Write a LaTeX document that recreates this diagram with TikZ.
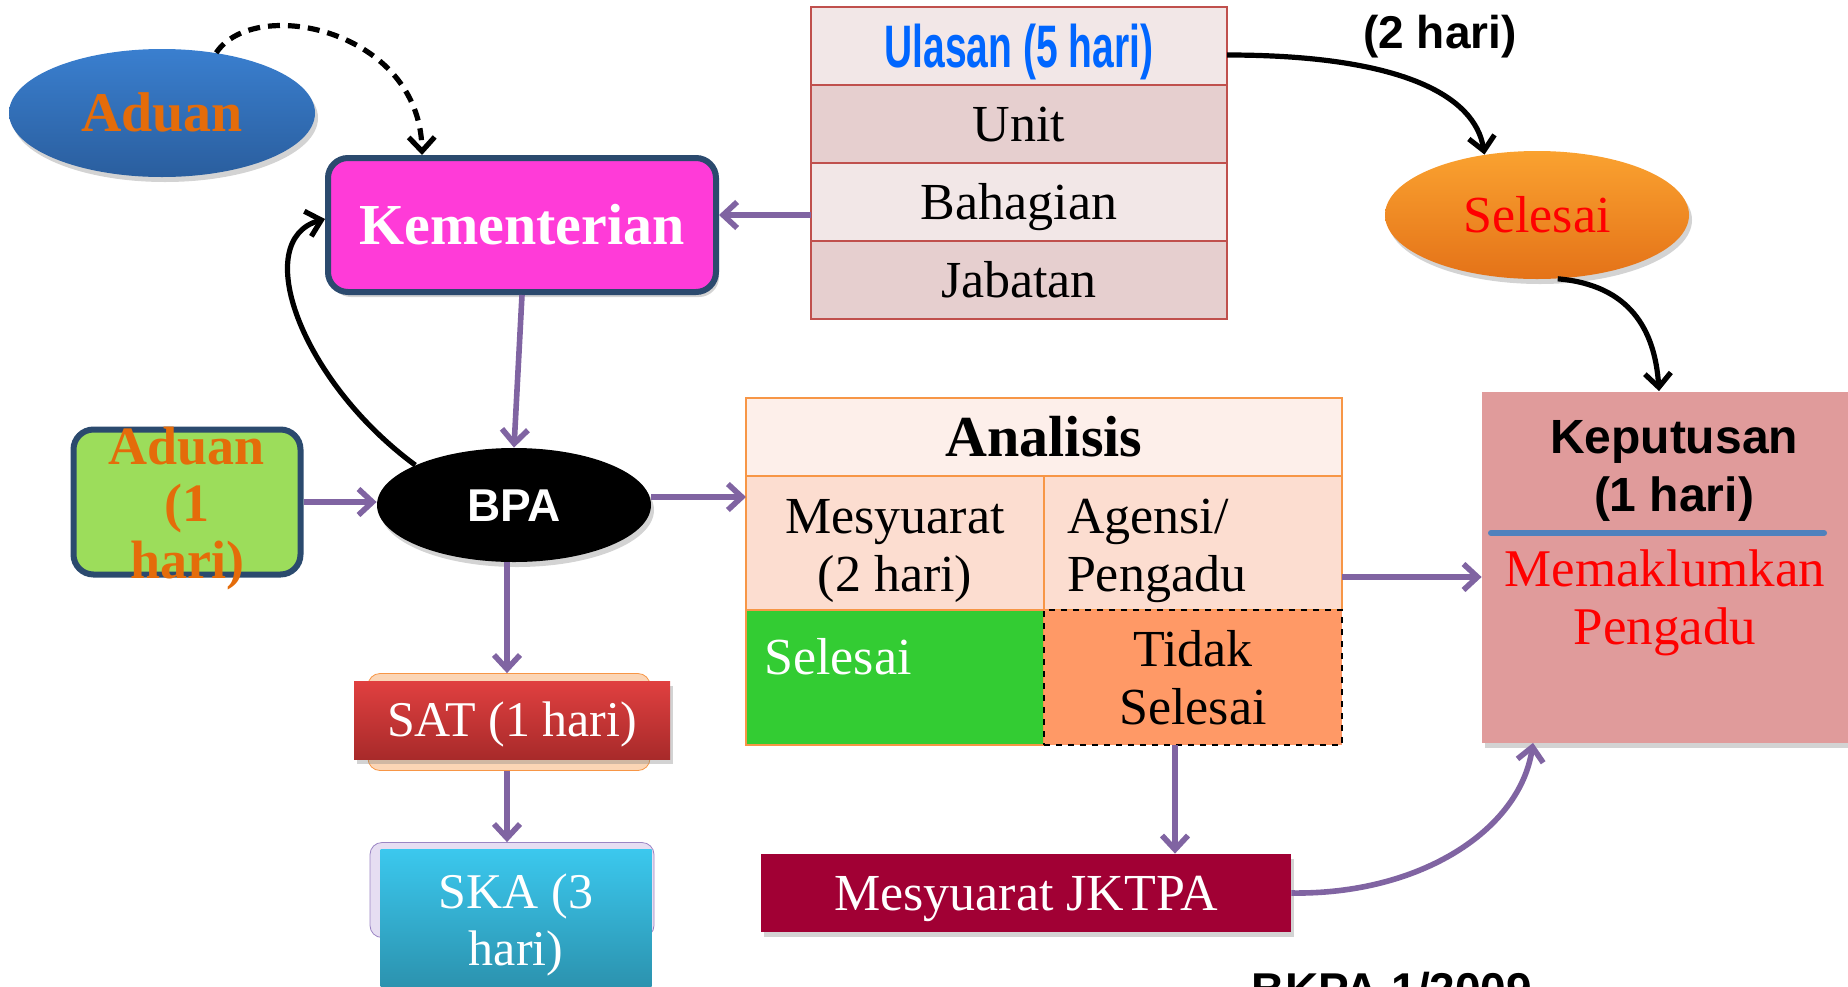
\documentclass[tikz,border=0pt]{standalone}
\usepackage{fontspec}
\setmainfont{Liberation Serif}
\setsansfont{Liberation Sans}
\newfontfamily\impactish[FakeStretch=0.65]{Liberation Sans}
\usetikzlibrary{positioning,arrows.meta,shapes.geometric,shadows}

\definecolor{arrowviolet}{RGB}{128,100,162}
\definecolor{frameblue}{RGB}{43,74,110}
\definecolor{aduanblue}{RGB}{58,127,207}
\definecolor{aduandeep}{RGB}{42,94,158}
\definecolor{aduanorange}{RGB}{228,108,10}
\definecolor{kempink}{RGB}{255,59,216}
\definecolor{limegreen}{RGB}{156,221,91}
\definecolor{ulasred}{RGB}{192,80,77}
\definecolor{ulaslight}{RGB}{242,231,231}
\definecolor{ulasdark}{RGB}{230,207,207}
\definecolor{ulastext}{RGB}{0,102,255}
\definecolor{anaborder}{RGB}{247,150,70}
\definecolor{analight}{RGB}{253,239,234}
\definecolor{anamid}{RGB}{252,221,208}
\definecolor{donegreen}{RGB}{51,204,51}
\definecolor{notdone}{RGB}{255,153,102}
\definecolor{kepfill}{RGB}{224,155,155}
\definecolor{kepline}{RGB}{79,129,189}
\definecolor{jktpared}{RGB}{161,0,52}
\definecolor{sattop}{RGB}{224,64,64}
\definecolor{satbottom}{RGB}{168,42,42}
\definecolor{satback}{RGB}{251,213,181}
\definecolor{skatop}{RGB}{59,200,238}
\definecolor{skabottom}{RGB}{42,141,168}
\definecolor{skaback}{RGB}{230,222,242}
\definecolor{skaedge}{RGB}{155,133,196}
\definecolor{seltop}{RGB}{250,162,48}
\definecolor{selbottom}{RGB}{228,114,24}

\tikzset{
  flow/.style={arrowviolet, line width=2.8pt, -{Straight Barb[length=7pt,width=13pt]}},
  bflow/.style={black, line width=2.6pt, -{Straight Barb[length=7pt,width=13pt]}},
  shade/.style={drop shadow={opacity=0.35,shadow xshift=1.5pt,shadow yshift=-2.5pt}},
  capmid/.style={text height=#1, text depth=3pt},
  serifbig/.style={font=\fontsize{26}{29}\selectfont},
  sansbig/.style={font=\sffamily\bfseries\fontsize{23}{29}\selectfont},
  ulasrow/.style={draw=ulasred, line width=1.2pt, inner sep=0pt, outer sep=0pt,
    minimum width=208pt, minimum height=39pt, serifbig, capmid=20.2pt},
  anacell/.style={draw=anaborder, line width=1.2pt, inner sep=0pt, outer sep=0pt,
    minimum width=149pt, minimum height=67pt, serifbig},
}

\begin{document}
\begin{tikzpicture}[x=0.5pt,y=-0.5pt]
    \useasboundingbox (0,0) rectangle (1848,986);
    % left column
    \node[ellipse, shade, top color=aduanblue, bottom color=aduandeep, minimum width=153pt, minimum height=64pt,
          text=aduanorange, font=\bfseries\fontsize{28}{30}\selectfont, capmid=21.5pt] (aduanTop) at (162,113) {Aduan};
    \node[shade, draw=frameblue, line width=3pt, rounded corners=10pt, fill=kempink, minimum width=194pt, minimum height=67pt,
          text=white, font=\bfseries\fontsize{29}{30}\selectfont, capmid=22pt] (kem) at (522,225) {Kementerian};
    \node[draw=frameblue, line width=3pt, rounded corners=10pt, fill=limegreen, minimum width=113.5pt, minimum height=72.5pt] (aduanSatu) at (187,502) {};
    \node[text=aduanorange, align=center, font=\bfseries\fontsize{27}{28.5}\selectfont] (aduanSatuTxt) at (187,509) {Aduan\\(1\\hari)};
    \node[ellipse, shade, fill=black, minimum width=137pt, minimum height=57pt, text=white, sansbig, capmid=19.5pt] (bpa) at (514,505) {BPA};
    \node[draw=anaborder, fill=satback, rounded corners=6pt, minimum width=141pt, minimum height=48.5pt] (satBack) at (509,722) {};
    \node[shade, top color=sattop, bottom color=satbottom, minimum width=158pt, minimum height=39pt, text=white,
          font=\fontsize{25}{28}\selectfont, capmid=19.5pt] (sat) at (512,720) {SAT (1 hari)};
    \node[draw=skaedge, fill=skaback, rounded corners=6pt, minimum width=142pt, minimum height=47.5pt] (skaBack) at (512,890) {};
    \node[top color=skatop, bottom color=skabottom, minimum width=135.5pt, minimum height=76pt, text=white, align=center,
          font=\fontsize{25}{28.5}\selectfont] (ska) at (516,925) {SKA (3\\hari)};
    % ulasan table
    \node[ulasrow, fill=ulaslight, text=ulastext, font=\impactish\bfseries\fontsize{30}{30}\selectfont, capmid=24.5pt] (ulasan) at (1019,46) {Ulasan (5 hari)};
    \node[ulasrow, fill=ulasdark, below=0pt of ulasan] (unit) {Unit};
    \node[ulasrow, fill=ulaslight, below=0pt of unit] (bahagian) {Bahagian};
    \node[ulasrow, fill=ulasdark, below=0pt of bahagian] (jabatan) {Jabatan};
    \node[sansbig, capmid=19.5pt] (duaHari) at (1440,32) {(2 hari)};
    \node[ellipse, shade, top color=seltop, bottom color=selbottom, minimum width=152pt, minimum height=64pt, text=red,
          serifbig, capmid=20.2pt] (selTop) at (1537,215) {Selesai};
    % analisis table
    \node[anacell, fill=analight, minimum width=298pt, minimum height=39pt, font=\bfseries\fontsize{29}{30}\selectfont, capmid=22pt] (analisis) at (1044,437) {Analisis};
    \node[anacell, fill=anamid, below right=0pt of analisis.south west] (mesy) {};
    \node[anacell, fill=anamid, right=0pt of mesy] (agensi) {};
    \node[serifbig, align=center] (mesyTxt) at ([yshift=-4pt]mesy.center) {Mesyuarat\\(2 hari)};
    \node[serifbig, align=left, anchor=west] (agensiTxt) at ([xshift=8pt,yshift=-4pt]agensi.west) {Agensi/\\Pengadu};
    \node[anacell, fill=donegreen, minimum height=67.5pt, below=0pt of mesy] (done) {};
    \node[anchor=north west, text=white, serifbig, inner sep=0pt] (doneTxt) at ([xshift=9pt,yshift=-14pt]done.north west) {Selesai};
    \node[anacell, fill=notdone, draw=black, dashed, minimum height=67.5pt, align=center, right=0pt of done] (notDone) {Tidak\\Selesai};
    \node[shade, fill=jktpared, minimum width=265pt, minimum height=39pt, text=white, serifbig, capmid=20.2pt] (jktpa) at (1026,893) {Mesyuarat JKTPA};
    % keputusan
    \node[shade, fill=kepfill, minimum width=189pt, minimum height=175.5pt] (kep) at (1671,567) {};
    \node[font=\sffamily\bfseries\fontsize{24}{29}\selectfont, align=center] (kepTitle) at (1674,471) {Keputusan\\(1 hari)};
    \draw[kepline, line width=3pt, line cap=round] (1491,533) -- (1824,533);
    \node[text=red, align=center, font=\fontsize{26.5}{29}\selectfont] (kepNote) at (1665,603) {Memaklumkan\\Pengadu};
    \node[anchor=base, font=\sffamily\bfseries\fontsize{23}{26}\selectfont] (bkpa) at (1392,1005) {BKPA 1/2009};
    % connectors
    \draw[black, line width=2.6pt, dash pattern=on 6pt off 4pt, -{Straight Barb[length=7pt,width=13pt]}]
        (aduanTop.48) .. controls (255,-5) and (420,30) .. ([xshift=-50pt]kem.north);
    \draw[bflow] (bpa.158) .. controls (300,380) and (250,240) .. ([yshift=3pt]kem.west);
    \draw[flow] ([yshift=-6.5pt]bahagian.west) -- ([yshift=-6.5pt]bahagian.west -| kem.east);
    \draw[flow] (kem.south) -- (bpa.north);
    \draw[flow] (aduanSatu.east) -- (aduanSatu.east -| bpa.west);
    \draw[flow] ([xshift=-3.5pt]bpa.south) -- ([xshift=-3.5pt]bpa.south |- satBack.north);
    \draw[flow] ([xshift=-1pt]satBack.south) -- ([xshift=-1pt]satBack.south |- skaBack.north);
    \draw[flow] ([yshift=4pt]bpa.east) -- ([yshift=4pt]bpa.east -| analisis.west);
    \draw[bflow] ([yshift=-4.5pt]ulasan.east) .. controls (1400,55) and (1475,95) .. (selTop.131);
    \draw[bflow] (selTop.-72) .. controls (1630,285) and (1655,330) .. ([xshift=-6pt]kep.north);
    \draw[flow] (agensi.east |- 0,577) -- (kep.west |- 0,577);
    \draw[flow] ([xshift=-9pt]notDone.south) -- ([xshift=-9pt]notDone.south |- jktpa.north);
    \draw[flow] (jktpa.east) .. controls (1420,895) and (1520,830) .. ([xshift=-69pt]kep.south);
\end{tikzpicture}
\end{document}
